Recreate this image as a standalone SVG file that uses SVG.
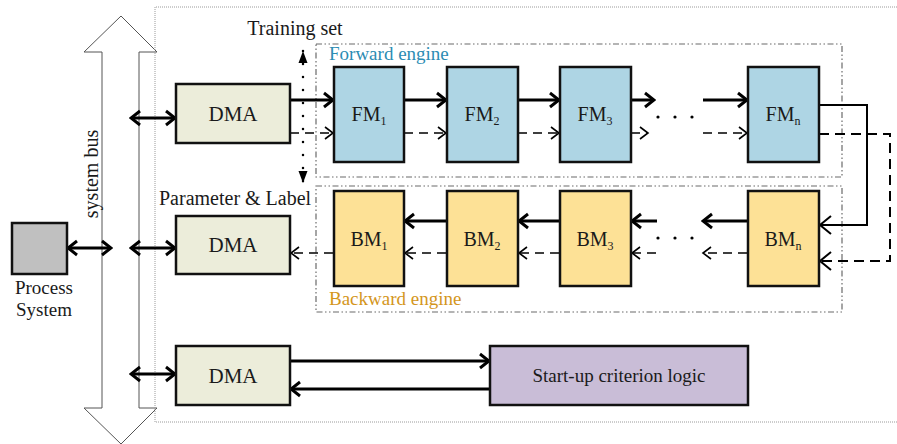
<svg xmlns="http://www.w3.org/2000/svg" width="897" height="444" viewBox="0 0 897 444">
  <style>
    text { font-family: "Liberation Serif", "Times New Roman", serif; font-size: 19px; fill: #1a1a1a; }
    .box { stroke: #111; stroke-width: 2.5; }
    .dma { fill: #ecedda; }
    .fm { fill: #aed5e4; }
    .bm { fill: #fde196; }
    .logic { fill: #c9bdd7; }
    .proc { fill: #c0c0c0; }
    .solid { fill: none; stroke: #000; stroke-width: 3; }
    .loop { fill: none; stroke: #000; stroke-width: 2; }
    .dash { fill: none; stroke: #000; stroke-width: 1.6; stroke-dasharray: 9 6; }
    .engine { fill: none; stroke: #6a6a6a; stroke-width: 1.2; stroke-dasharray: 6 2.5 1.5 2.5 1.5 2.5; }
    .lbl { font-size: 21px; }
    .mod { font-size: 20px; }
    .sub { font-size: 12px; }
    .mid { text-anchor: middle; }
  </style>
  <defs>
    <marker id="head" viewBox="-12 -9 14 18" refX="0" refY="0" markerWidth="14" markerHeight="18" markerUnits="userSpaceOnUse" orient="auto-start-reverse">
      <path d="M-9,-7 L0,0 L-9,7" fill="none" stroke="#000" stroke-width="3"/>
    </marker>
    <marker id="thin" viewBox="-12 -9 14 18" refX="0" refY="0" markerWidth="14" markerHeight="18" markerUnits="userSpaceOnUse" orient="auto">
      <path d="M-8,-6 L0,0 L-8,6" fill="none" stroke="#000" stroke-width="1.6"/>
    </marker>
    <marker id="loophead" viewBox="-14 -11 16 22" refX="0" refY="0" markerWidth="16" markerHeight="22" markerUnits="userSpaceOnUse" orient="auto">
      <path d="M-11,-9 L0,0 L-11,9" fill="none" stroke="#000" stroke-width="2"/>
    </marker>
    <marker id="tri" viewBox="-12 -6 13 12" refX="0" refY="0" markerWidth="13" markerHeight="12" markerUnits="userSpaceOnUse" orient="auto-start-reverse">
      <path d="M-12,-4.5 L0,0 L-12,4.5 Z" fill="#000"/>
    </marker>
  </defs>

  <!-- system bus: hollow double-headed arrow -->
  <g id="system-bus">
    <path d="M121,16 L157,52 L139,52 L139,408 L157,408 L121,444 L84,408 L102,408 L102,52 L84,52 Z" fill="#fff" stroke="#555" stroke-width="1"/>
    <text transform="translate(98,174) rotate(-90)" class="mid" style="font-size:20px">system bus</text>
  </g>

  <!-- accelerator boundary -->
  <path d="M897,7 H155 V422 H897" fill="none" stroke="#9a9a9a" stroke-width="1" stroke-dasharray="1 1"/>

  <!-- engine frames -->
  <g id="forward-engine">
    <rect x="316" y="44" width="526" height="133" class="engine"/>
    <text x="329" y="60" style="fill:#2b8cb3">Forward engine</text>
  </g>
  <g id="backward-engine">
    <rect x="316" y="186" width="526" height="126" class="engine"/>
    <text x="329" y="305" style="fill:#d4961c">Backward engine</text>
  </g>

  <text x="295" y="35" class="mid" style="font-size:20px">Training set</text>
  <text x="159" y="205" style="font-size:20px">Parameter &amp; Label</text>

  <!-- connectors -->
  <g id="connectors">
    <!-- bus links -->
    <line x1="68" y1="248" x2="111" y2="248" class="solid" marker-start="url(#head)" marker-end="url(#head)"/>
    <line x1="131" y1="118" x2="175" y2="118" class="solid" marker-start="url(#head)" marker-end="url(#head)"/>
    <line x1="131" y1="248" x2="175" y2="248" class="solid" marker-start="url(#head)" marker-end="url(#head)"/>
    <line x1="131" y1="374" x2="175" y2="374" class="solid" marker-start="url(#head)" marker-end="url(#head)"/>

    <!-- training set load/store -->
    <line x1="303" y1="51" x2="303" y2="183" stroke="#000" stroke-width="2.5" stroke-linecap="round" stroke-dasharray="0 13" marker-start="url(#tri)" marker-end="url(#tri)"/>

    <!-- forward chain -->
    <line x1="290" y1="100" x2="333" y2="100" class="solid" marker-end="url(#head)"/>
    <line x1="404" y1="100" x2="446" y2="100" class="solid" marker-end="url(#head)"/>
    <line x1="518" y1="100" x2="559" y2="100" class="solid" marker-end="url(#head)"/>
    <line x1="631" y1="100" x2="654" y2="100" class="solid" marker-end="url(#head)"/>
    <line x1="703" y1="100" x2="747" y2="100" class="solid" marker-end="url(#head)"/>
    <line x1="290" y1="133" x2="333" y2="133" class="dash" marker-end="url(#thin)"/>
    <line x1="404" y1="133" x2="446" y2="133" class="dash" marker-end="url(#thin)"/>
    <line x1="518" y1="133" x2="559" y2="133" class="dash" marker-end="url(#thin)"/>
    <line x1="631" y1="133" x2="648" y2="133" class="dash" marker-end="url(#thin)"/>
    <line x1="703" y1="133" x2="747" y2="133" class="dash" marker-end="url(#thin)"/>

    <!-- forward to backward turnaround -->
    <path d="M819,105 H867 V225 H820" class="loop" marker-end="url(#loophead)"/>
    <path d="M819,134 H890 V261 H820" class="loop" stroke-dasharray="10 6" marker-end="url(#loophead)"/>

    <!-- backward chain -->
    <line x1="747" y1="221" x2="703" y2="221" class="solid" marker-end="url(#head)"/>
    <line x1="657" y1="221" x2="632" y2="221" class="solid" marker-end="url(#head)"/>
    <line x1="559" y1="221" x2="519" y2="221" class="solid" marker-end="url(#head)"/>
    <line x1="446" y1="221" x2="405" y2="221" class="solid" marker-end="url(#head)"/>
    <line x1="747" y1="253" x2="703" y2="253" class="dash" marker-end="url(#thin)"/>
    <line x1="656" y1="253" x2="632" y2="253" class="dash" marker-end="url(#thin)"/>
    <line x1="559" y1="253" x2="519" y2="253" class="dash" marker-end="url(#thin)"/>
    <line x1="446" y1="253" x2="405" y2="253" class="dash" marker-end="url(#thin)"/>
    <line x1="333" y1="253" x2="291" y2="253" class="dash" marker-end="url(#thin)"/>

    <!-- start-up criterion handshake -->
    <line x1="290" y1="361" x2="489" y2="361" class="solid" marker-end="url(#head)"/>
    <line x1="490" y1="389" x2="291" y2="389" class="solid" marker-end="url(#head)"/>

    <!-- ellipses between stages -->
    <g fill="#000">
      <circle cx="658" cy="117" r="1.6"/><circle cx="675" cy="117" r="1.6"/><circle cx="692" cy="117" r="1.6"/>
      <circle cx="658" cy="238" r="1.6"/><circle cx="675" cy="238" r="1.6"/><circle cx="692" cy="238" r="1.6"/>
    </g>
  </g>

  <!-- nodes -->
  <g id="process-system">
    <rect x="12" y="223" width="55" height="51" class="box proc"/>
    <text x="44" y="294" class="mid">Process</text>
    <text x="44" y="316" class="mid">System</text>
  </g>

  <g id="dma-1">
    <rect x="176" y="84" width="114" height="59" class="box dma"/>
    <text x="233" y="121" class="mid lbl">DMA</text>
  </g>
  <g id="dma-2">
    <rect x="176" y="216" width="114" height="58" class="box dma"/>
    <text x="233" y="252" class="mid lbl">DMA</text>
  </g>
  <g id="dma-3">
    <rect x="176" y="346" width="114" height="59" class="box dma"/>
    <text x="233" y="383" class="mid lbl">DMA</text>
  </g>

  <g id="fm-1">
    <rect x="334" y="67" width="70" height="95" class="box fm"/>
    <text x="369" y="121" class="mid mod">FM<tspan class="sub" dy="4">1</tspan></text>
  </g>
  <g id="fm-2">
    <rect x="447" y="67" width="71" height="95" class="box fm"/>
    <text x="482" y="121" class="mid mod">FM<tspan class="sub" dy="4">2</tspan></text>
  </g>
  <g id="fm-3">
    <rect x="560" y="67" width="71" height="95" class="box fm"/>
    <text x="595" y="121" class="mid mod">FM<tspan class="sub" dy="4">3</tspan></text>
  </g>
  <g id="fm-n">
    <rect x="748" y="67" width="71" height="95" class="box fm"/>
    <text x="783" y="121" class="mid mod">FM<tspan class="sub" dy="4">n</tspan></text>
  </g>

  <g id="bm-1">
    <rect x="334" y="191" width="70" height="95" class="box bm"/>
    <text x="369" y="246" class="mid mod">BM<tspan class="sub" dy="4">1</tspan></text>
  </g>
  <g id="bm-2">
    <rect x="447" y="191" width="71" height="95" class="box bm"/>
    <text x="482" y="246" class="mid mod">BM<tspan class="sub" dy="4">2</tspan></text>
  </g>
  <g id="bm-3">
    <rect x="560" y="191" width="71" height="95" class="box bm"/>
    <text x="595" y="246" class="mid mod">BM<tspan class="sub" dy="4">3</tspan></text>
  </g>
  <g id="bm-n">
    <rect x="748" y="191" width="71" height="95" class="box bm"/>
    <text x="783" y="246" class="mid mod">BM<tspan class="sub" dy="4">n</tspan></text>
  </g>

  <g id="startup-logic">
    <rect x="490" y="346" width="258" height="59" class="box logic"/>
    <text x="619" y="382" class="mid">Start-up criterion logic</text>
  </g>
</svg>
